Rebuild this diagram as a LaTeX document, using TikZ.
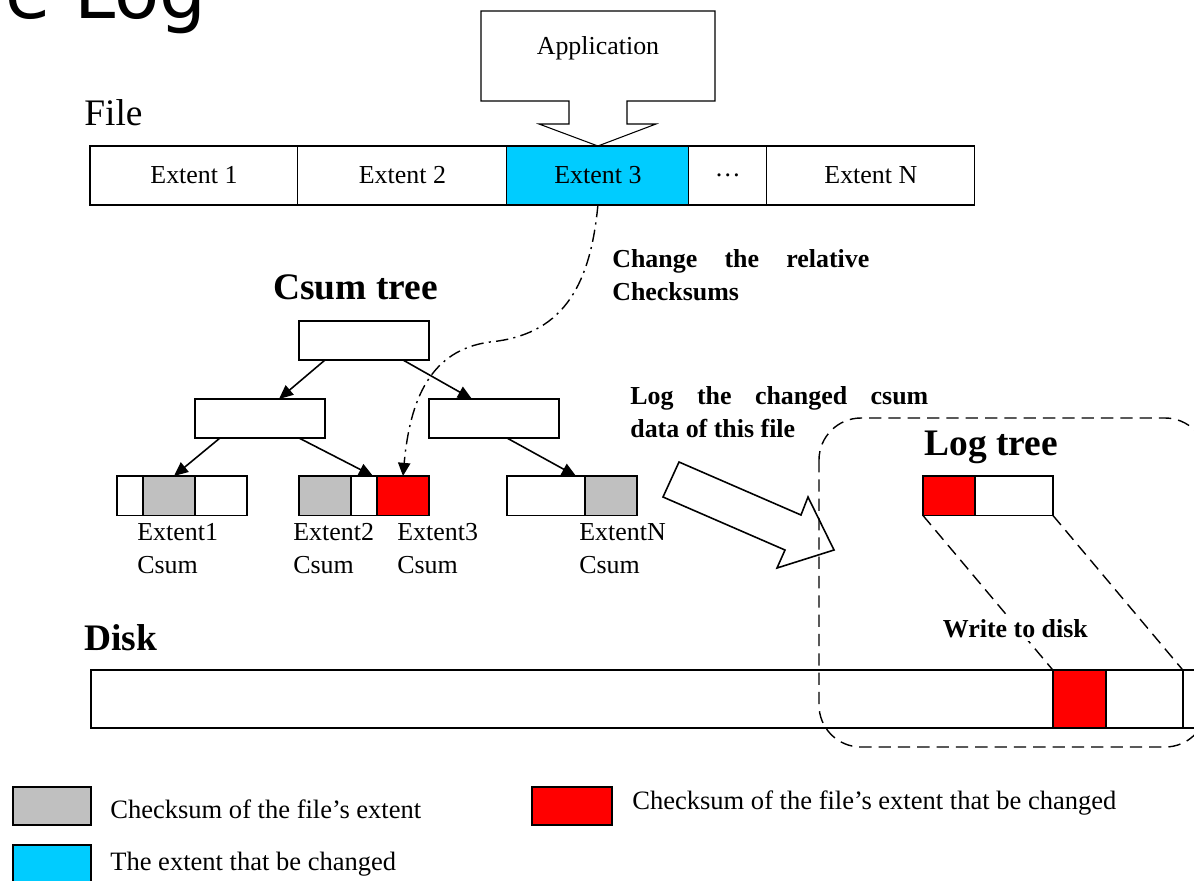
\documentclass[tikz,border=0pt]{standalone}
\usepackage{fontspec}
\setmainfont{Liberation Serif}
\newfontfamily\titlefont{DejaVu Sans}
\usetikzlibrary{arrows.meta, positioning, calc}
\definecolor{extcyan}{RGB}{0,204,255}
\definecolor{csumgray}{RGB}{192,192,192}
\definecolor{csumred}{RGB}{255,0,0}
\newcommand{\txtsize}{\fontsize{14.75}{18.6}\selectfont}
\newcommand{\legsize}{\fontsize{15.1}{18.6}\selectfont}
\newcommand{\headsize}{\fontsize{21.3}{25.6}\selectfont}
\tikzstyle{seg} = [draw, line width=0.6pt, minimum height=1.18cm, inner sep=0, outer sep=0, font=\txtsize]
\tikzstyle{tbox} = [draw, line width=1pt, minimum width=2.6cm, minimum height=0.78cm, inner sep=0, outer sep=0]
\tikzstyle{cell} = [draw, line width=1pt, minimum height=0.79cm, inner sep=0, outer sep=0]
\tikzstyle{dseg} = [draw, line width=0.9pt, minimum height=1.16cm, inner sep=0, outer sep=0]
\tikzstyle{tarrow} = [-{Triangle[length=8pt,width=7pt]}, line width=0.9pt]
\tikzstyle{lbl} = [anchor=base west, inner sep=0, font=\txtsize, align=left]
\tikzstyle{heading} = [anchor=base west, inner sep=0, font=\headsize]
\tikzstyle{note} = [anchor=base west, inner sep=0, font=\txtsize\bfseries, align=left]
\tikzstyle{legbox} = [draw, line width=1pt, minimum width=1.56cm, minimum height=0.76cm, inner sep=0, outer sep=0, anchor=north west]
\tikzstyle{longdash} = [dash pattern=on 7pt off 4pt, line width=0.8pt]

\begin{document}
\begin{tikzpicture}[x=0.02cm, y=-0.02cm]
\useasboundingbox (0,0) rectangle (1194,880);
\clip (0,0) rectangle (1194,880);
\node (title) [anchor=base west, inner sep=0, font=\titlefont\fontsize{42}{50}\selectfont] at (5,18) {e Log};

% file and its extents
\node (filelbl) [heading] at (84,125) {File};
\node (ext1) [seg, minimum width=4.16cm, anchor=north west] at (90,146) {Extent 1};
\node (ext2) [seg, minimum width=4.18cm, right=0pt of ext1] {Extent 2};
\node (ext3) [seg, minimum width=3.64cm, fill=extcyan, right=0pt of ext2] {Extent 3};
\node (extdots) [seg, minimum width=1.56cm, right=0pt of ext3] {…};
\node (extn) [seg, minimum width=4.16cm, right=0pt of extdots] {Extent N};

\node (app) [anchor=base, inner sep=0, font=\txtsize] at (598,54) {Application};
\draw[line width=0.6pt] (481,11) -- (715,11) -- (715,101) -- (627,101) -- (627,124) -- (656,124) -- (ext3.north) -- (539,124) -- (569,124) -- (569,101) -- (481,101) -- cycle;

% csum tree
\node (csumlbl) [heading, font=\headsize\bfseries] at (273,299) {Csum tree};
\node (root) [tbox, anchor=north west] at (299,321) {};
\node (lmid) [tbox, anchor=north west] at (195,399) {};
\node (rmid) [tbox, right=2.08cm of lmid] {};

\node (l1a) [cell, minimum width=0.52cm, anchor=north west] at (117,476) {};
\node (l1b) [cell, minimum width=1.04cm, fill=csumgray, right=0pt of l1a] {};
\node (l1c) [cell, minimum width=1.04cm, right=0pt of l1b] {};
\node (l2a) [cell, minimum width=1.04cm, fill=csumgray, anchor=north west] at (299,476) {};
\node (l2b) [cell, minimum width=0.52cm, right=0pt of l2a] {};
\node (l2c) [cell, minimum width=1.04cm, fill=csumred, right=0pt of l2b] {};
\node (l3a) [cell, minimum width=1.56cm, anchor=north west] at (507,476) {};
\node (l3b) [cell, minimum width=1.04cm, fill=csumgray, right=0pt of l3a] {};

\draw[tarrow] ($(root.south west)+(26,0)$) -- ($(lmid.north west)+(84,0)$);
\draw[tarrow] ($(root.south west)+(104,0)$) -- ($(rmid.north west)+(43,0)$);
\draw[tarrow] ($(lmid.south west)+(25,0)$) -- ($(l1b.north)+(5,0)$);
\draw[tarrow] ($(lmid.south west)+(104,0)$) -- ($(l2b.north)+(9,0)$);
\draw[tarrow] ($(rmid.south west)+(78,0)$) -- ($(l3b.north west)+(-9,0)$);

\node (l1lbl) [lbl] at (137,573) {Extent1\\Csum};
\node (l2lbl) [lbl] at (293,573) {Extent2\\Csum};
\node (l3lbl) [lbl] at (397,573) {Extent3\\Csum};
\node (lnlbl) [lbl] at (579,573) {ExtentN\\Csum};

\draw[dash pattern=on 7pt off 3pt on 1.2pt off 3pt, line width=0.8pt, -{Triangle[length=7.5pt,width=7pt]}] (ext3.south) .. controls (590,290) and (560,335) .. (490,342) .. controls (430,350) and (410,400) .. (l2c.north);
\node (chglbl) [note] at (612,300) {\makebox[5.14cm][s]{Change the relative}\\Checksums};

% log tree
\node (loglbl) [note] at (630,437) {\makebox[5.96cm][s]{Log the changed csum}\\data of this file};
\draw[line width=0.9pt] (679,462) -- (801,515) -- (808,497) -- (834,550) -- (777,568) -- (785,550) -- (663,497) -- cycle;
\draw[longdash, rounded corners=0.84cm] (819,418) rectangle (1207,747);
\node (logtree) [heading, font=\headsize\bfseries] at (924,455) {Log tree};
\node (lta) [cell, minimum width=1.04cm, fill=csumred, anchor=north west] at (923,476) {};
\node (ltb) [cell, minimum width=1.56cm, right=0pt of lta] {};

% disk
\node (disklbl) [heading, font=\headsize\bfseries] at (84,650) {Disk};
\node (d1) [dseg, minimum width=19.24cm, anchor=north west] at (91,670) {};
\node (d2) [dseg, minimum width=1.06cm, fill=csumred, right=0pt of d1] {};
\node (d3) [dseg, minimum width=1.54cm, right=0pt of d2] {};
\node (d4) [dseg, minimum width=2cm, right=0pt of d3] {};

\draw[longdash] (lta.south west) -- (d2.north west);
\draw[longdash] (ltb.south east) -- (d3.north east);
\node (wrlbl) [note, fill=white, inner sep=2pt] at (939,637) {Write to disk};

% legend
\node (leggray) [legbox, fill=csumgray] at (13,787) {};
\node (leggraytxt) [lbl, font=\legsize] at (110,818) {Checksum of the file’s extent};
\node (legred) [legbox, fill=csumred, minimum width=1.6cm] at (532,787) {};
\node (legredtxt) [lbl, font=\legsize] at (632,809) {Checksum of the file’s extent that be changed};
\node (legcyan) [legbox, fill=extcyan] at (13,845) {};
\node (legcyantxt) [lbl, font=\legsize] at (110,870) {The extent that be changed};
\end{tikzpicture}
\end{document}
